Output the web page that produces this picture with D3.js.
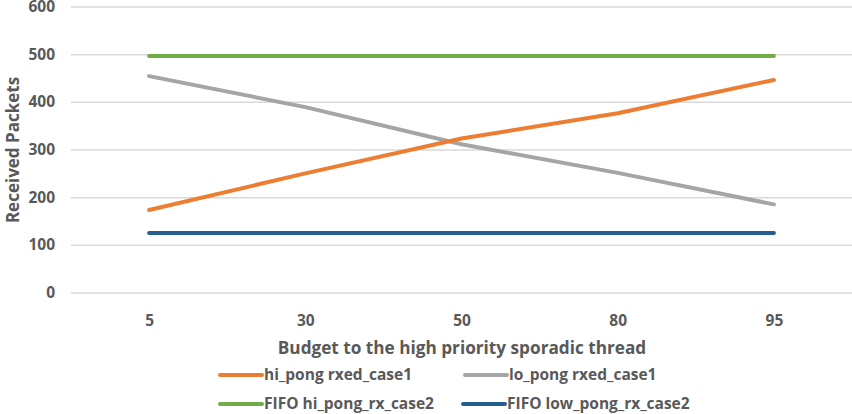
<!DOCTYPE html>
<html>
<head>
<meta charset="utf-8">
<script src="https://cdn.jsdelivr.net/npm/d3@7"></script>
<style>
  body { margin: 0; background: #fff; }
  text { font-family: "Open Sans", "Liberation Sans", sans-serif; font-weight: bold; fill: #595959; }
</style>
</head>
<body>
<svg id="chart"></svg>
<script>
// categories and series
const budgets = ['5', '30', '50', '80', '95'];
const hiPongCase1 = [174, 251, 324, 377, 447];
const loPongCase1 = [455, 390, 312, 252, 186];
const fifoHiCase2 = [497, 497, 497, 497, 497];
const fifoLowCase2 = [126, 126, 126, 126, 126];
const yTicks = [0, 100, 200, 300, 400, 500, 600];

const seriesNames = ['hi_pong rxed_case1', 'lo_pong rxed_case1', 'FIFO hi_pong_rx_case2', 'FIFO low_pong_rx_case2'];
const seriesColors = ['#ED7D31', '#A5A5A5', '#70AD47', '#255E91'];

const width = 852, height = 414;
const margin = { top: 7, right: 0, bottom: 121, left: 71 };

const svg = d3.select('#chart')
    .attr('width', width)
    .attr('height', height);

const innerW = width - margin.left - margin.right;
const innerH = height - margin.top - margin.bottom;

const chart = svg.append('g')
    .attr('transform', `translate(${margin.left},${margin.top})`);

const xScale = d3.scalePoint()
    .domain(budgets)
    .range([0, innerW])
    .padding(0.5);

const yScale = d3.scaleLinear()
    .domain([0, 600])
    .range([innerH, 0]);

// gridlines
chart.append('g')
    .selectAll('line')
    .data(yTicks)
    .join('line')
    .attr('x1', 0)
    .attr('x2', innerW)
    .attr('y1', d => yScale(d))
    .attr('y2', d => yScale(d))
    .attr('stroke', '#d9d9d9')
    .attr('stroke-width', 1.5);

// y axis labels
const yAxis = d3.axisLeft(yScale)
    .tickValues(yTicks)
    .tickSize(0)
    .tickPadding(16);

chart.append('g')
    .call(yAxis)
    .call(g => g.select('.domain').remove())
    .selectAll('text')
    .attr('font-size', 15.5)
    .attr('dy', '0.3em')
    .style('font-family', '"Open Sans", sans-serif')
    .style('font-weight', 'bold')
    .attr('fill', '#595959');

// x axis labels
const xAxis = d3.axisBottom(xScale)
    .tickSize(0)
    .tickPadding(22);

chart.append('g')
    .attr('transform', `translate(0,${innerH})`)
    .call(xAxis)
    .call(g => g.select('.domain').remove())
    .selectAll('text')
    .attr('font-size', 15.5)
    .style('font-family', '"Open Sans", sans-serif')
    .style('font-weight', 'bold')
    .attr('fill', '#595959');

// series lines
const allSeries = [hiPongCase1, loPongCase1, fifoHiCase2, fifoLowCase2];

const line = d3.line()
    .x((d, i) => xScale(budgets[i]))
    .y(d => yScale(d));

// draw the flat FIFO lines first, then case1 on top
const drawOrder = [2, 3, 1, 0];
chart.append('g')
    .selectAll('path')
    .data(drawOrder)
    .join('path')
    .attr('d', i => line(allSeries[i]))
    .attr('fill', 'none')
    .attr('stroke', i => seriesColors[i])
    .attr('stroke-width', 4)
    .attr('stroke-linecap', 'round')
    .attr('stroke-linejoin', 'round');

// axis titles
svg.append('text')
    .attr('text-anchor', 'middle')
    .attr('x', 462)
    .attr('y', 354)
    .attr('font-size', 17.2)
    .text('Budget to the high priority sporadic thread');

svg.append('text')
    .attr('text-anchor', 'middle')
    .attr('transform', 'rotate(-90)')
    .attr('x', -150)
    .attr('y', 19)
    .attr('font-size', 17)
    .text('Received Packets');

// legend
const legendPos = [
    { x: 220, y: 375 },
    { x: 465, y: 375 },
    { x: 220, y: 404 },
    { x: 463, y: 404 }
];

const legend = svg.append('g')
    .selectAll('g')
    .data(seriesNames)
    .join('g')
    .attr('transform', (d, i) => `translate(${legendPos[i].x},${legendPos[i].y})`);

legend.append('line')
    .attr('x1', 0)
    .attr('x2', 42)
    .attr('stroke', (d, i) => seriesColors[i])
    .attr('stroke-width', 4)
    .attr('stroke-linecap', 'round');

legend.append('text')
    .attr('x', 44)
    .attr('dy', '0.32em')
    .attr('font-size', 15.5)
    .text(d => d);
</script>
</body>
</html>
